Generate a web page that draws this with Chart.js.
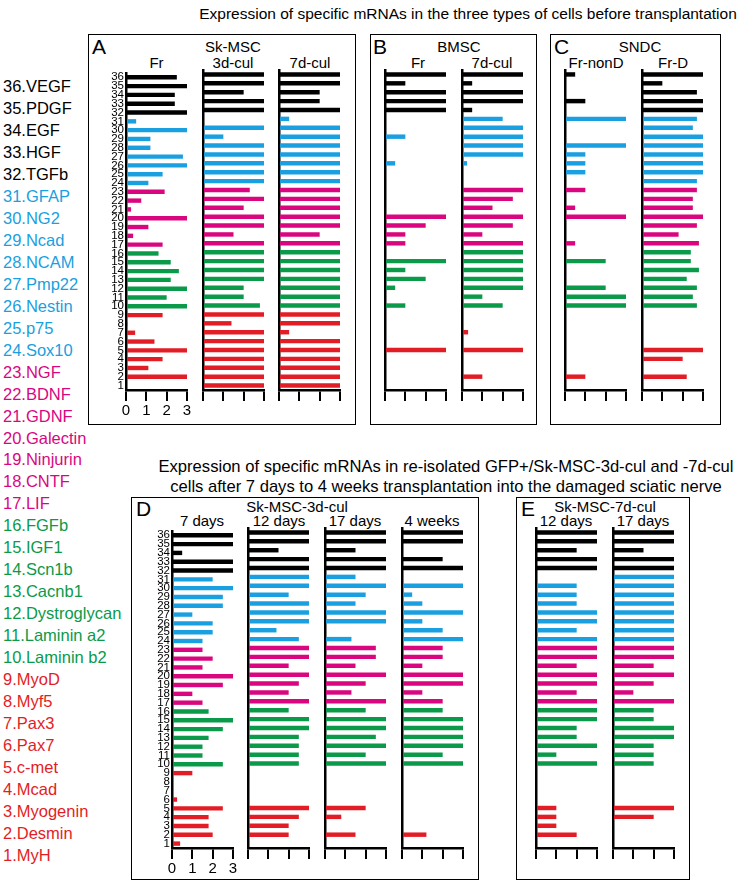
<!DOCTYPE html>
<html><head><meta charset="utf-8">
<script src="https://cdn.jsdelivr.net/npm/chart.js@4.4.1/dist/chart.umd.min.js"></script>
<style>
html,body{margin:0;padding:0;background:#fff;}
#page{position:relative;width:740px;height:886px;overflow:hidden;font-family:"Liberation Sans",Arial,sans-serif;}
.t{position:absolute;white-space:nowrap;line-height:1;}
.box{position:absolute;border:1.5px solid #000;box-sizing:border-box;}
canvas{position:absolute;}
</style></head><body><div id="page"></div>
<script>
const FONT = '"Liberation Sans", Arial, sans-serif';
// rows from top (36) to bottom (1)
const rowLabels = ["36","35","34","33","32","31","30","29","28","27","26","25","24","23","22","21","20","19","18","17","16","15","14","13","12","11","10","9","8","7","6","5","4","3","2","1"];
const geneNames = ["36.VEGF","35.PDGF","34.EGF","33.HGF","32.TGFb","31.GFAP","30.NG2","29.Ncad","28.NCAM","27.Pmp22","26.Nestin","25.p75","24.Sox10","23.NGF","22.BDNF","21.GDNF","20.Galectin","19.Ninjurin","18.CNTF","17.LIF","16.FGFb","15.IGF1","14.Scn1b","13.Cacnb1","12.Dystroglycan","11.Laminin a2","10.Laminin b2","9.MyoD","8.Myf5","7.Pax3","6.Pax7","5.c-met","4.Mcad","3.Myogenin","2.Desmin","1.MyH"];
const xTickValues = [0,1,2,3];

// Panel A: Sk-MSC
const A_Fr  = [2.5,3,2.4,2.4,3, 0.5,3,1.2,1.2,2.8,3,1.8,1.1, 1.9,0.75,0.25,3,1.1,0.35,1.8, 1.6,2.2,2.6,2.2,3,2.0,3, 1.8,0.07,0.45,1.4,3,1.8,1.1,3,0];
const A_3d  = [3,3,2,3,3, 0,3,1,3,3,3,3,3, 2.3,3,2,3,3,1.5,3, 3,3,3,3,2,2,2.8, 3,1.4,3,3,3,3,3,3,3];
const A_7d  = [3,3,2,2,3, 0.5,3,3,3,3,3,3,3, 3,3,3,3,3,2,3, 3,3,3,3,3,3,3, 3,3,0.5,3,3,3,3,3,3];
// Panel B: BMSC
const B_Fr  = [3,1,3,3,3, 0,0,1,0,0,0.5,0,0, 0,0,0,3,2,1,1, 0,3,1,2,0.5,0,1, 0,0,0,0,3,0,0,0,0];
const B_7d  = [3,0.5,3,3,0.5, 2,3,3,3,3,0.25,0,0, 3,2.5,1.5,3,2.5,1,3, 3,3,3,3,3,1,2, 0,0,0.3,0,3,0,0,1,0];
// Panel C: SNDC
const C_nonD= [0.5,0,0,1,0, 3,0,0,3,1,1,1,0, 1,0,0.5,3,0,0,0.5, 0,2,0,0,2,3,3, 0,0,0,0,0,0,0,1,0];
const C_D   = [3,1,2.7,3,3, 2.7,2.5,3,3,3,3,3,2.7, 2.7,2.5,2.5,3,2.7,1.8,2.8, 2.4,2.4,2.8,2.2,2.7,2.5,2.7, 0,0,0,0,3,2,0,2.2,0];
// Panel D: Sk-MSC-3d-cul after transplantation
const D_7d  = [3,3,0.5,3,3, 2,3,2.5,2.5,1,2,2,1.5, 1.5,2,1.5,3,2.5,1,1.5, 1.8,3,2.5,1.8,1.5,1.5,2.5, 1,0,0,0.25,2.5,1.8,1.8,2,0.4];
const D_12d = [3,3,1.5,3,3, 3,3,2,3,3,3,1.4,2.5, 3,3,2,3,2.5,2,3, 2,3,3,2.5,2.5,2.5,2.5, 0,0,0,0,3,2.5,2,2,0];
const D_17d = [3,3,1.5,3,3, 1.5,3,2,1.5,3,3,0,1.3, 2.5,2.5,1.5,3,2,1.3,3, 2,3,3,2.5,3,2,3, 0,0,0,0,2,0.8,0,1.5,0];
const D_4w  = [3,3,0,2,3, 0,3,0.5,1,3,1,2,3, 2,2,1,3,3,1,2, 2,3,3,3,3,2,3, 0,0,0,0,0,0,0,1.2,0];
// Panel E: Sk-MSC-7d-cul after transplantation
const E_12d = [3,3,2,3,3, 0,2,2,2,3,3,2,3, 3,3,2,3,3,2,3, 3,3,2,2,3,1,3, 0,0,0,0,1,1,1,2,0];
const E_17d = [3,3,1.5,3,3, 3,3,3,3,3,3,3,3, 3,3,2,3,2,1,3, 2,2,3,3,2,2,2, 0,0,0,0,3,2,0,0,0];

const C_BLACK='#000000', C_BLUE='#1a9fe0', C_MAG='#d9067f', C_GREEN='#0a9a4a', C_RED='#e31d25';
function colorFor(n){ if(n>=32) return C_BLACK; if(n>=24) return C_BLUE; if(n>=17) return C_MAG; if(n>=10) return C_GREEN; return C_RED; }
const barColors = rowLabels.map(l=>colorFor(+l));

const page = document.getElementById('page');
function txt(s,x,y,size,color,align,extra){
  const d=document.createElement('div'); d.className='t'; d.textContent=s;
  d.style.left=x+'px'; d.style.top=y+'px'; d.style.fontSize=size+'px'; d.style.color=color||'#000';
  d.style.transform = align==='left' ? 'translate(0,-50%)' : 'translate(-50%,-50%)';
  if(extra) Object.assign(d.style, extra);
  page.appendChild(d); return d;
}
function box(l,t,r,b){ const d=document.createElement('div'); d.className='box';
  d.style.left=l+'px'; d.style.top=t+'px'; d.style.width=(r-l)+'px'; d.style.height=(b-t)+'px'; page.appendChild(d); }

// titles
txt('Expression of specific mRNAs in the three types of cells before transplantation',468,14,15.5);
txt('Expression of specific mRNAs in re-isolated GFP+/Sk-MSC-3d-cul and -7d-cul',446,467,16.6);
txt('cells after 7 days to 4 weeks transplantation into the damaged sciatic nerve',446,487,16.6);

// boxes
box(88,34,356,425); box(370,34,537,425); box(550,34,721,425);
box(131,497,479,880); box(516,497,690,880);

// gene list
geneNames.forEach((g,i)=>{ const n=36-i; txt(g,3,86+i*21.97,16.5,colorFor(n),'left'); });

// headers
txt('A',92,46,21,'#000','left'); txt('Sk-MSC',233,46,15); txt('Fr',156.5,62,15); txt('3d-cul',233,62,15); txt('7d-cul',310,62,15);
txt('B',373,46,21,'#000','left'); txt('BMSC',459,46,15); txt('Fr',418,62,15); txt('7d-cul',492,62,15);
txt('C',554,46,21,'#000','left'); txt('SNDC',640,46,15); txt('Fr-nonD',596,62,15); txt('Fr-D',673,62,15);
txt('D',136,508,21,'#000','left'); txt('Sk-MSC-3d-cul',297,506,15); txt('7 days',202,520,15); txt('12 days',279,520,15); txt('17 days',355,520,15); txt('4 weeks',432,520,15);
txt('E',521,508,21,'#000','left'); txt('Sk-MSC-7d-cul',605,506,15); txt('12 days',566,520,15); txt('17 days',643,520,15);

const YW=40, PADT=6, PADR=6, AREA_W=61, AREA_H=320, XH=35;
function makeChart(axisX, areaTop, vals, showY, showX){
  const cv=document.createElement('canvas');
  const W=YW+AREA_W+PADR, H=PADT+AREA_H+XH;
  cv.width=W; cv.height=H; cv.style.width=W+'px'; cv.style.height=H+'px';
  cv.style.left=(axisX-YW)+'px'; cv.style.top=(areaTop-PADT)+'px';
  page.appendChild(cv);
  new Chart(cv,{
    type:'bar',
    data:{labels:rowLabels,datasets:[{data:vals,backgroundColor:barColors,borderWidth:0,categoryPercentage:1,barPercentage:0.5}]},
    options:{
      indexAxis:'y',responsive:false,animation:false,devicePixelRatio:1,
      layout:{padding:{left:0,right:PADR,top:PADT,bottom:0}},
      plugins:{legend:{display:false},tooltip:{enabled:false}},
      scales:{
        x:{type:'linear',min:0,max:3,afterFit:s=>{s.height=XH;},
           afterBuildTicks:s=>{s.ticks=xTickValues.map(v=>({value:v}));},
           border:{display:true,color:'#000',width:2.5},
           grid:{drawOnChartArea:false,drawTicks:true,tickLength:11,color:'#000',lineWidth:2},
           ticks:{display:showX,color:'#000',font:{size:15,family:FONT},padding:1,maxRotation:0,autoSkip:false}},
        y:{afterFit:s=>{s.width=YW;},
           border:{display:true,color:'#000',width:2.5},
           grid:{display:false,drawTicks:false},
           ticks:{display:showY,autoSkip:false,color:'#000',font:{size:11.5,family:FONT},padding:2}}
      }
    }
  });
}
const TOP=70, BOT=527.5;
makeChart(126,TOP,A_Fr,true,true);
makeChart(202.5,TOP,A_3d,false,false);
makeChart(279,TOP,A_7d,false,false);
makeChart(385,TOP,B_Fr,false,false);
makeChart(461.7,TOP,B_7d,false,false);
makeChart(565,TOP,C_nonD,false,false);
makeChart(642.3,TOP,C_D,false,false);
makeChart(171.7,BOT,D_7d,true,true);
makeChart(248.3,BOT,D_12d,false,false);
makeChart(325,BOT,D_17d,false,false);
makeChart(401.7,BOT,D_4w,false,false);
makeChart(536,BOT,E_12d,false,false);
makeChart(612.7,BOT,E_17d,false,false);
</script></body></html>
